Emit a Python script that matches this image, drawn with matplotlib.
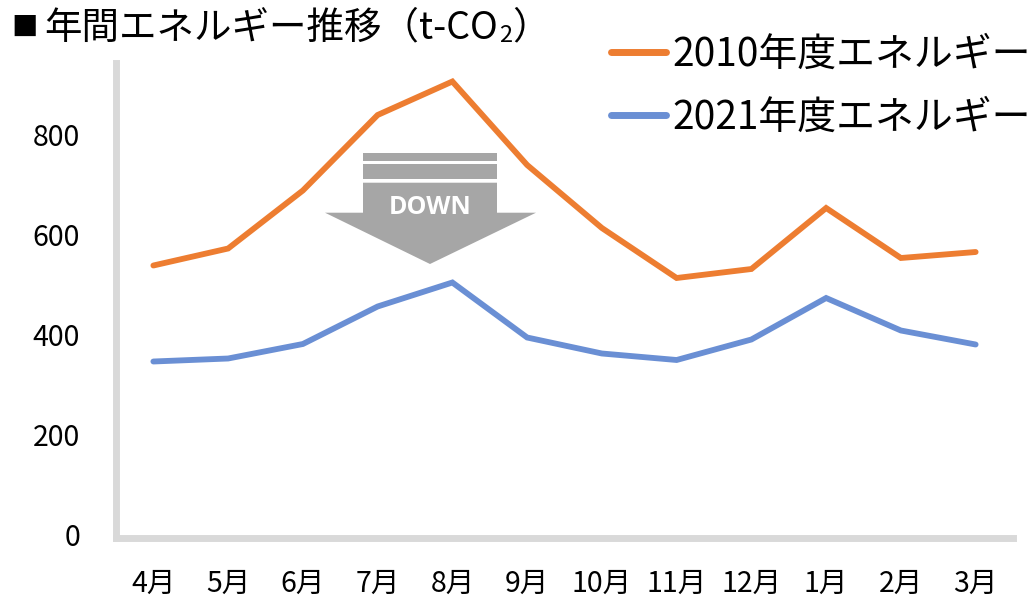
import matplotlib
matplotlib.use("Agg")
import matplotlib.pyplot as plt
from matplotlib.patches import Polygon, Rectangle
from matplotlib.lines import Line2D

plt.rcParams['font.family'] = ['Noto Sans CJK JP', 'DejaVu Sans']

months = ["4月", "5月", "6月", "7月", "8月", "9月", "10月", "11月", "12月", "1月", "2月", "3月"]
energy_2010 = [537, 571, 687, 838, 905, 738, 612, 512, 530, 652, 552, 564]
energy_2021 = [345, 351, 380, 455, 503, 393, 361, 348, 389, 472, 407, 379]
series_labels = ["2010年度エネルギー", "2021年度エネルギー"]
y_ticks = [0, 200, 400, 600, 800]
title_mark = "■"
title_main = "年間エネルギー推移（t-CO"
title_sub = "2"
title_end = "）"

W, H = 1030, 598
fig = plt.figure(figsize=(W / 100, H / 100), dpi=100)

def fx(px):
    return px / W

def fy(py):
    return 1 - py / H

ax = fig.add_axes([fx(116), fy(538), fx(1013) - fx(116), fy(63) - fy(538)])

orange = "#ED7D31"
blue = "#6A8FD4"
x = list(range(len(months)))
ax.plot(x, energy_2010, color=orange, lw=4.2, solid_capstyle='round', solid_joinstyle='miter', label=series_labels[0])
ax.plot(x, energy_2021, color=blue, lw=4.2, solid_capstyle='round', solid_joinstyle='miter', label=series_labels[1])

ax.set_xlim(-0.5, len(months) - 0.5)
ax.set_ylim(-8, 942)
ax.set_yticks(y_ticks)
ax.set_yticklabels([str(v) for v in y_ticks], fontsize=20.5)
ax.set_xticks(x)
ax.set_xticklabels(months, fontsize=20.5)
ax.tick_params(axis='y', length=0, pad=26)
ax.tick_params(axis='x', length=0, pad=22)
for s in ['top', 'right']:
    ax.spines[s].set_visible(False)
for s in ['left', 'bottom']:
    ax.spines[s].set_color("#D9D9D9")
    ax.spines[s].set_linewidth(5)
    ax.spines[s].set_capstyle('projecting')

# Legend
handles = [Line2D([], [], color=orange, lw=5, solid_capstyle='round'),
           Line2D([], [], color=blue, lw=5, solid_capstyle='round')]
fig.legend(handles, series_labels, loc='upper left', bbox_to_anchor=(fx(611), fy(35)),
           frameon=False, fontsize=28, handlelength=1.42, handletextpad=0.15,
           borderpad=0, borderaxespad=0, labelspacing=0.58)

# DOWN arrow decoration (figure pixel coordinates)
gray = "#A6A6A6"
tf = fig.transFigure
fig.patches.append(Rectangle((fx(363), fy(160.7)), fx(497) - fx(363), fy(153.3) - fy(160.7),
                             transform=tf, facecolor=gray, edgecolor='none'))
fig.patches.append(Rectangle((fx(363), fy(178.7)), fx(497) - fx(363), fy(164) - fy(178.7),
                             transform=tf, facecolor=gray, edgecolor='none'))
arrow_pts = [(363, 182.7), (497, 182.7), (497, 212.7), (536, 212.7), (430, 264),
             (325, 212.7), (363, 212.7)]
fig.patches.append(Polygon([(fx(a), fy(b)) for a, b in arrow_pts], closed=True,
                           transform=tf, facecolor=gray, edgecolor='none'))
fig.text(fx(430), fy(207), "DOWN", color="white", fontsize=18, fontweight='bold',
         family=['Open Sans', 'DejaVu Sans'], ha='center', va='center')

# Title with subscript
renderer = fig.canvas.get_renderer()
fig.text(fx(11), fy(28), title_mark, fontsize=19, ha='left', va='center')
t1 = fig.text(fx(44), fy(28), title_main, fontsize=27, ha='left', va='center')
bb = t1.get_window_extent(renderer)
t2 = fig.text(bb.x1 / W + fx(1), fy(36), title_sub, fontsize=17, ha='left', va='center')
bb2 = t2.get_window_extent(renderer)
fig.text(bb2.x1 / W, fy(28), title_end, fontsize=27, ha='left', va='center')

fig.savefig("out.png", dpi=100)
